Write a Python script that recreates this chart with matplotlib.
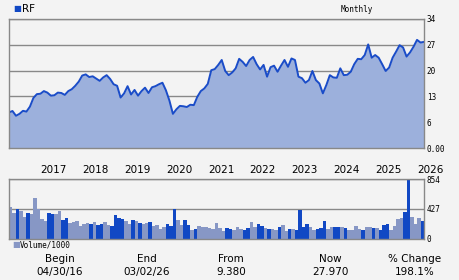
import numpy as np
import matplotlib
matplotlib.use("Agg")
import matplotlib.pyplot as plt

# monthly closes, Apr 2016 .. Mar 2026
price = [9.38, 9.75, 8.5, 9.0, 9.8, 9.6, 10.9, 13.2, 14.2, 14.3,
         15.0, 14.6, 13.8, 13.9, 14.6, 14.5, 14.0, 15.0, 15.5, 16.4,
         17.5, 19.1, 19.4, 18.7, 18.9, 18.3, 17.7, 18.6, 19.2, 18.2,
         16.8, 16.4, 13.3, 14.4, 16.3, 14.1, 15.3, 13.8, 15.0, 15.9,
         14.5, 16.0, 16.3, 16.8, 17.2, 15.2, 12.5, 9.0, 10.2, 11.1,
         11.0, 10.8, 11.4, 11.3, 13.5, 15.0, 15.7, 16.9, 20.5, 20.8,
         21.9, 23.2, 20.3, 19.2, 19.9, 21.0, 23.5, 22.7, 21.6, 23.2,
         24.0, 22.1, 20.7, 21.9, 18.8, 21.3, 21.7, 20.1, 21.7, 23.2,
         21.4, 23.6, 23.2, 18.8, 18.4, 17.2, 17.9, 20.3, 17.9, 17.0,
         14.4, 16.6, 19.2, 18.6, 18.5, 21.0, 19.2, 19.3, 20.1, 22.1,
         23.5, 23.4, 24.5, 27.3, 23.8, 24.5, 23.8, 22.1, 20.3, 21.2,
         23.8, 25.4, 27.1, 26.5, 24.1, 25.2, 26.7, 28.5, 27.8, 27.97]

# volume in thousands
volume = [459, 372, 434, 401, 318, 372, 357, 589, 434, 285,
          256, 372, 357, 357, 401, 270, 300, 227, 241, 256,
          183, 212, 227, 212, 241, 198, 212, 241, 198, 183,
          343, 300, 285, 256, 212, 270, 256, 227, 212, 227,
          241, 183, 198, 140, 169, 212, 183, 430, 270, 198,
          270, 198, 125, 140, 183, 169, 169, 154, 140, 227,
          154, 111, 154, 140, 125, 169, 140, 125, 154, 241,
          169, 212, 183, 154, 140, 140, 125, 169, 198, 111,
          140, 140, 125, 415, 169, 212, 169, 125, 140, 154,
          256, 140, 169, 169, 169, 169, 155, 126, 126, 184,
          140, 126, 169, 169, 155, 155, 126, 198, 212, 126,
          184, 285, 300, 386, 840, 314, 212, 300, 256, 60]

years = [2017, 2018, 2019, 2020, 2021, 2022, 2023, 2024, 2025, 2026]
price_ticks = [0, 6.8, 13.6, 20.4, 27.2, 34]
price_labels = ["0.00", "6", "13", "20", "27", "34"]
vol_ticks = [0, 427, 854]
vol_labels = ["0", "427", "854"]

bg = "#f3f3f3"
line_c = "#1a4cc8"
fill_c = "#9cb0dc"
up_c = "#8797c5"
down_c = "#1148c4"
frame_c = "#888888"
mono = "DejaVu Sans Mono"

x = np.arange(len(price))
jan = [(y - 2016) * 12 - 3 for y in years]  # month index of each January
up = [True] + [price[i] >= price[i - 1] for i in range(1, len(price))]
bar_colors = [up_c if u else down_c for u in up]

fig = plt.figure(figsize=(4.6, 2.8), dpi=100, facecolor=bg)

# price panel
ax1 = fig.add_axes([9 / 460, 1 - 148 / 280, 415 / 460, 129 / 280], facecolor=bg)
ax1.fill_between(x, price, 0, color=fill_c, lw=0)
ax1.plot(x, price, color=line_c, lw=1.4)
ax1.set_xlim(0, len(price) - 1)
ax1.set_ylim(0, 34)
ax1.set_axisbelow(True)
ax1.grid(axis="y", color=frame_c, lw=1)
ax1.yaxis.tick_right()
ax1.set_yticks(price_ticks, price_labels, fontsize=5.5, family=mono)
ax1.set_xticks(jan, [str(y) for y in years], fontsize=7.5)
for lbl in ax1.get_xticklabels():
    lbl.set_ha("left")
ax1.tick_params(length=0, pad=2)
ax1.tick_params(axis="x", pad=12)
for s in ax1.spines.values():
    s.set_color(frame_c)
    s.set_linewidth(1)

# volume panel
ax2 = fig.add_axes([9 / 460, 1 - 238.7 / 280, 415 / 460, 59.4 / 280], facecolor=bg)
ax2.bar(x, volume, width=1.0, align="edge", color=bar_colors, lw=0)
ax2.set_xlim(0, len(price) - 1)
ax2.set_ylim(0, 854)
ax2.set_axisbelow(True)
ax2.grid(axis="y", color=frame_c, lw=1)
ax2.yaxis.tick_right()
ax2.set_yticks(vol_ticks, vol_labels, fontsize=5.5, family=mono)
ax2.set_xticks([])
ax2.tick_params(length=0, pad=2)
for s in ax2.spines.values():
    s.set_color(frame_c)
    s.set_linewidth(1)

# header and legends
fig.text(13 / 460, 1 - 9 / 280, "\u25a0", color=down_c, fontsize=6, va="center")
fig.text(22 / 460, 1 - 9 / 280, "RF", fontsize=7.5, va="center")
fig.text(357 / 460, 1 - 9 / 280, "Monthly", fontsize=5.5, family=mono,
         ha="center", va="center")
fig.text(12 / 460, 1 - 245 / 280, "\u25a0", color=up_c, fontsize=6, va="center")
fig.text(20 / 460, 1 - 245 / 280, "Volume/1000", fontsize=5.5, family=mono,
         va="center")

# summary row
summary = [(60, "Begin", "04/30/16"), (147, "End", "03/02/26"),
           (231, "From", "9.380"), (330, "Now", "27.970"),
           (415, "% Change", "198.1%")]
for cx, head, val in summary:
    fig.text(cx / 460, 1 - 259 / 280, head, fontsize=7.5, ha="center", va="center")
    fig.text(cx / 460, 1 - 272 / 280, val, fontsize=7.5, ha="center", va="center")

fig.savefig("out.png", dpi=100, facecolor=bg)
